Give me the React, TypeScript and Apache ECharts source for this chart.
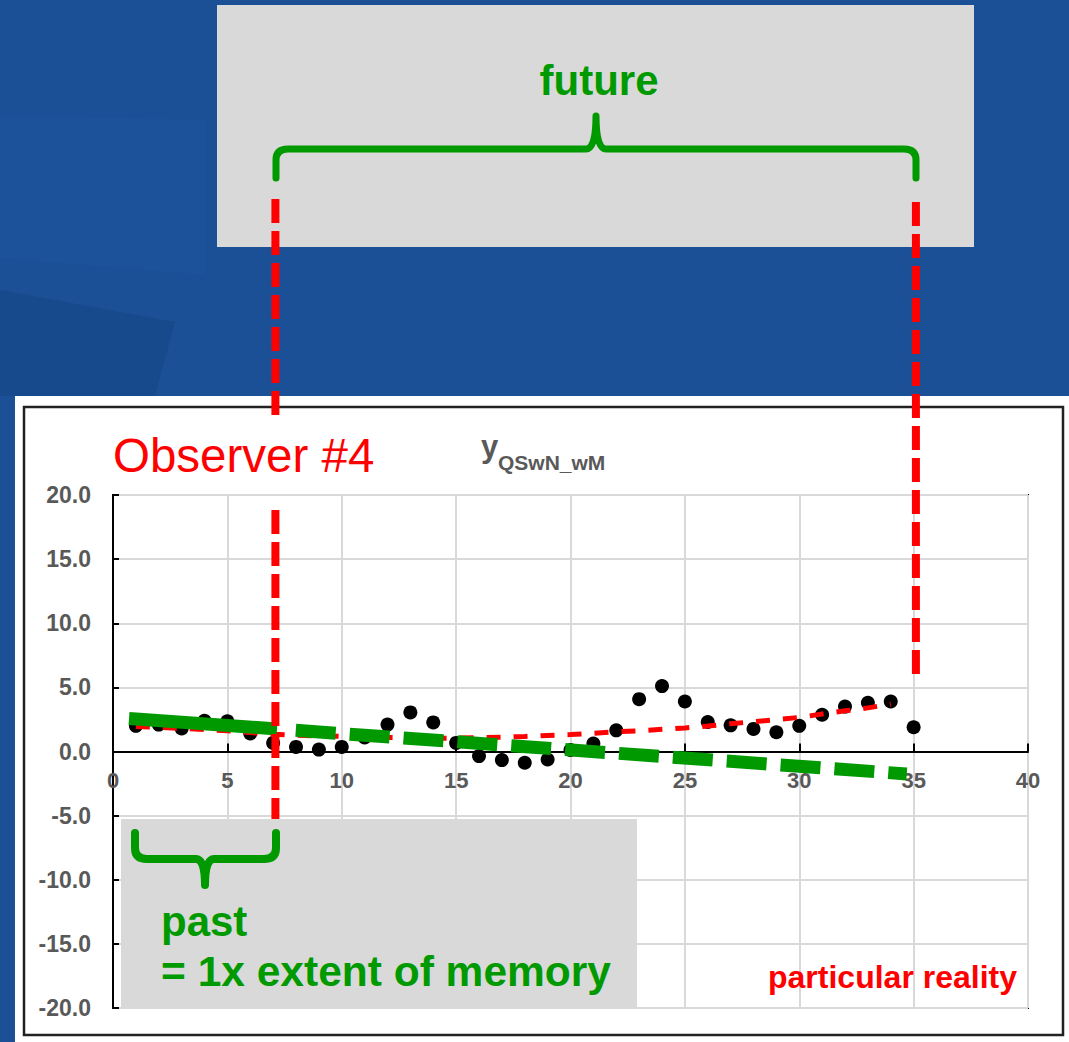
import React, { useEffect, useRef } from "react";
import * as echarts from "echarts";

// ---- data ----
const stepX = [1, 2, 3, 4, 5, 6, 7, 8, 9, 10, 11, 12, 13, 14, 15, 16, 17, 18, 19, 20, 21, 22, 23, 24, 25, 26, 27, 28, 29, 30, 31, 32, 33, 34, 35];
const observedY = [2.0, 2.1, 1.8, 2.4, 2.35, 1.4, 0.67, 0.36, 0.15, 0.36, 1.1, 2.1, 3.05, 2.27, 0.67, -0.36, -0.67, -0.88, -0.62, 0.12, 0.62, 1.65, 4.08, 5.1, 3.9, 2.3, 2.04, 1.76, 1.5, 2.0, 2.87, 3.5, 3.8, 3.9, 1.89];
const trendX = [1, 2, 3, 4, 5, 6, 7, 8, 9, 10, 11, 12, 13, 14, 15, 16, 17, 18, 19, 20, 21, 22, 23, 24, 25, 26, 27, 28, 29, 30, 31, 32, 33, 34];
const trendY = [1.95, 1.88, 1.8, 1.71, 1.62, 1.48, 1.34, 1.27, 1.22, 1.19, 1.14, 1.09, 1.06, 1.04, 1.04, 1.07, 1.11, 1.17, 1.25, 1.32, 1.42, 1.54, 1.62, 1.73, 1.84, 1.98, 2.17, 2.32, 2.49, 2.66, 2.92, 3.17, 3.4, 3.7];
const pastLineX = [0.7, 7.17];
const pastLineY = [2.58, 1.76];
const futureLineX = [7.38, 34.7];
const futureLineY = [1.73, -1.75];
const memoryEdgeX = 7.1;
const horizonX = 35.1;
const xTickLabels = ["0", "5", "10", "15", "20", "25", "30", "35", "40"];
const yTickLabels = ["-20.0", "-15.0", "-10.0", "-5.0", "0.0", "5.0", "10.0", "15.0", "20.0"];

const FONT = "'Liberation Sans', Arial, sans-serif";
const GREEN = "#009900";
const RED = "#ff0000";

echarts.graphic.registerShape(
  "braceTop",
  echarts.graphic.extendPath(
    "M276,178 L276,160 Q276,149 288,149 L586,149 Q596,149 596,116 Q596,149 606,149 L904,149 Q916,149 916,160 L916,178",
    {}
  )
);
echarts.graphic.registerShape(
  "bracePast",
  echarts.graphic.extendPath(
    "M135,833 L135,848 Q135,859 147,859 L196,859 Q205,859 205,885 Q205,859 214,859 L264,859 Q276,859 276,848 L276,833",
    {}
  )
);

const GRID_TOP = 495;
const GRID_BOTTOM = 34;
const CHART_H = 1042;

export default function App() {
  const ref = useRef<HTMLDivElement>(null);

  useEffect(() => {
    if (!ref.current) return;
    const chart = echarts.init(ref.current, undefined, { renderer: "svg" });
    const axisLabel = { fontFamily: FONT, fontWeight: "bold" as const, fontSize: 23, color: "#595959" };
    // move the x axis (line, ticks, labels) up to y = 0 (middle of the symmetric -20..20 range)
    const xAxisOffset = -(CHART_H - GRID_TOP - GRID_BOTTOM) / 2;
    chart.setOption({
      animation: false,
      backgroundColor: "#1b5096",
      grid: {
        left: 113, right: 41, top: GRID_TOP, bottom: GRID_BOTTOM,
        show: true, borderColor: "#000", borderWidth: 2, backgroundColor: "transparent",
        outerBoundsMode: "none", containLabel: false,
      },
      xAxis: {
        type: "value",
        min: 0,
        max: 40,
        interval: 5,
        offset: xAxisOffset,
        axisLine: { onZero: false, lineStyle: { color: "#000", width: 2 } },
        axisTick: { inside: true, length: 8, lineStyle: { color: "#000", width: 2 } },
        axisLabel: { ...axisLabel, fontSize: 22, margin: 18, formatter: (v: number) => xTickLabels[Math.round(v / 5)] ?? String(v) },
        splitLine: { show: true, lineStyle: { color: "#d9d9d9", width: 2 } },
      },
      yAxis: {
        type: "value",
        min: -20,
        max: 20,
        interval: 5,
        axisLine: { show: true, lineStyle: { color: "#000", width: 2 } },
        axisTick: { show: true, inside: true, length: 6, lineStyle: { color: "#000", width: 2 } },
        axisLabel: { ...axisLabel, margin: 22, formatter: (v: number) => yTickLabels[Math.round((v + 20) / 5)] ?? v.toFixed(1) },
        splitLine: { show: true, lineStyle: { color: "#d9d9d9", width: 2 } },
      },
      series: [
        {
          type: "scatter",
          data: stepX.map((x, i) => [x, observedY[i]]),
          symbol: "circle",
          symbolSize: 14,
          itemStyle: { color: "#000", opacity: 1 },
          z: 3,
        },
        {
          type: "line",
          data: trendX.map((x, i) => [x, trendY[i]]),
          showSymbol: false,
          symbol: "none",
          lineStyle: { color: RED, width: 5, type: [14, 13] },
          z: 4,
        },
        {
          type: "line",
          data: pastLineX.map((x, i) => [x, pastLineY[i]]),
          showSymbol: false,
          symbol: "none",
          lineStyle: { color: GREEN, width: 13, cap: "butt" },
          z: 5,
        },
        {
          type: "line",
          data: futureLineX.map((x, i) => [x, futureLineY[i]]),
          showSymbol: false,
          symbol: "none",
          lineStyle: { color: GREEN, width: 13, cap: "butt", type: [40, 14], dashOffset: 40 },
          z: 5,
        },
      ],
    });

    const leftX = chart.convertToPixel({ gridIndex: 0 }, [memoryEdgeX, 0])[0];
    const rightX = chart.convertToPixel({ gridIndex: 0 }, [horizonX, 0])[0];
    const redLine = (x: number, y1: number, y2: number) => ({
      type: "line",
      shape: { x1: x, y1, x2: x, y2 },
      style: { stroke: RED, lineWidth: 8, lineDash: [24, 8] },
      z: 20,
    });
    const text = (t: string, x: number, y: number, size: number, weight: string, fill: string, align = "left", z = 15) => ({
      type: "text",
      x,
      y,
      z,
      style: { text: t, fontFamily: FONT, fontSize: size, fontWeight: weight, fill, textAlign: align, textVerticalAlign: "middle" },
    });

    chart.setOption({
      graphic: [
        { type: "polygon", shape: { points: [[0, 115], [205, 120], [205, 275], [0, 258]] }, style: { fill: "#1c529a" }, z: -5 },
        { type: "polygon", shape: { points: [[0, 290], [175, 322], [155, 396], [0, 396]] }, style: { fill: "#174a8c" }, z: -5 },
        { type: "rect", shape: { x: 15, y: 396, width: 1054, height: 646 }, style: { fill: "#ffffff" }, z: -3 },
        { type: "rect", shape: { x: 24, y: 407, width: 1039, height: 628 }, style: { fill: "none", stroke: "#222", lineWidth: 2.5 }, z: -2 },
        { type: "rect", shape: { x: 217, y: 5, width: 757, height: 242 }, style: { fill: "#d9d9d9" }, z: -2 },
        text("future", 599, 80, 42, "bold", GREEN, "center"),
        { type: "braceTop", x: 0, y: 0, style: { fill: null, stroke: GREEN, lineWidth: 7, lineCap: "round", lineJoin: "round" }, z: 15 },
        { type: "rect", shape: { x: 121, y: 819, width: 516, height: 188 }, style: { fill: "#d9d9d9" }, z: 1 },
        { type: "bracePast", x: 0, y: 0, style: { fill: null, stroke: GREEN, lineWidth: 8, lineCap: "round", lineJoin: "round" }, z: 15 },
        text("past", 161, 921, 42, "bold", GREEN),
        text("= 1x extent of memory", 161, 971, 42.5, "bold", GREEN),
        text("particular reality", 1017, 977, 32, "bold", RED, "right"),
        text("Observer #4", 113, 455, 47.5, "normal", RED),
        text("y", 481, 446, 31, "bold", "#595959"),
        text("QSwN_wM", 498, 462, 21, "bold", "#595959"),
        redLine(leftX, 199, 415),
        redLine(leftX, 510, 819),
        redLine(rightX, 202, 675),
      ],
    });

    return () => chart.dispose();
  }, []);

  return <div ref={ref} style={{ position: "absolute", left: 0, top: 0, width: 1069, height: 1042 }} />;
}
